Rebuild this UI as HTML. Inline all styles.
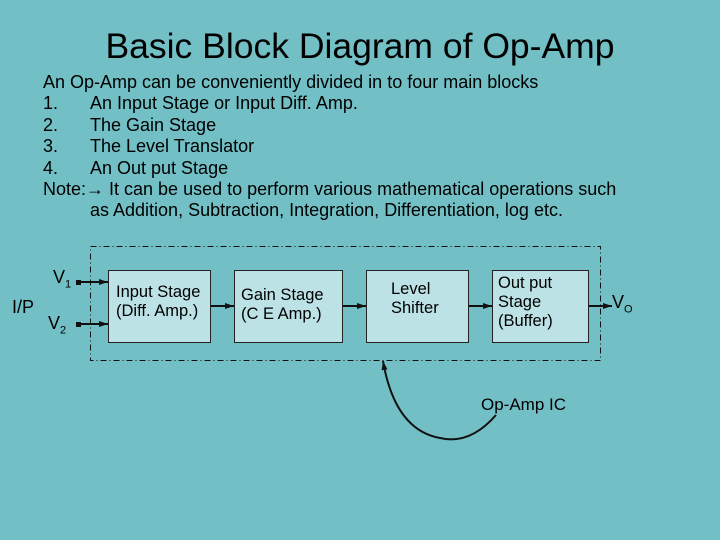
<!DOCTYPE html>
<html><head><style>
body{margin:0;width:720px;height:540px;background:#72bfc5;position:relative;overflow:hidden;font-family:"Liberation Sans",Arial,sans-serif;color:#000}
.t{position:absolute;white-space:nowrap}
.box{position:absolute;background:#bce2e5;border:1.5px solid #222;box-sizing:border-box;font-size:16.5px;line-height:19px;white-space:nowrap}
</style></head><body>
<div class="t" style="left:0;width:720px;text-align:center;top:26px;font-size:35.5px">Basic Block Diagram of Op-Amp</div>
<div style="position:absolute;left:43px;top:72px;font-size:18px;line-height:21.4px">
<div style="white-space:nowrap">An Op-Amp can be conveniently divided in to four main blocks</div>
<div>1.<span style="position:absolute;left:47px;white-space:nowrap">An Input Stage or Input Diff. Amp.</span></div>
<div>2.<span style="position:absolute;left:47px;white-space:nowrap">The Gain Stage</span></div>
<div>3.<span style="position:absolute;left:47px;white-space:nowrap">The Level Translator</span></div>
<div>4.<span style="position:absolute;left:47px;white-space:nowrap">An Out put Stage</span></div>
<div style="white-space:nowrap">Note:&#8594; It can be used to perform various mathematical operations such</div>
<div style="padding-left:47px;white-space:nowrap">as Addition, Subtraction, Integration, Differentiation, log etc.</div>
</div>
<svg width="720" height="540" style="position:absolute;left:0;top:0">
<defs><marker id="a" markerUnits="userSpaceOnUse" markerWidth="9" markerHeight="8" refX="9" refY="4" orient="auto"><path d="M0,1 L9,4 L0,7z" fill="#111"/></marker></defs>
<rect x="90.5" y="246.5" width="510" height="114" fill="none" stroke="#111" stroke-width="1" stroke-dasharray="6,3,1,3"/>
<g stroke="#111" stroke-width="2" fill="none">
<line x1="78" y1="282" x2="108" y2="282" marker-end="url(#a)"/>
<line x1="78" y1="324" x2="108" y2="324" marker-end="url(#a)"/>
<line x1="210" y1="306" x2="234" y2="306" marker-end="url(#a)"/>
<line x1="342" y1="306" x2="366" y2="306" marker-end="url(#a)"/>
<line x1="468" y1="306" x2="492" y2="306" marker-end="url(#a)"/>
<line x1="588" y1="306" x2="612" y2="306" marker-end="url(#a)"/>
<path d="M496,415 Q470,445 440,438 Q395,430 383,361" marker-end="url(#a)"/>
</g>
<rect x="76" y="280" width="5" height="5" fill="#111"/>
<rect x="76" y="322" width="5" height="5" fill="#111"/>
</svg>
<div class="box" style="left:108px;top:270px;width:103px;height:73px;padding:12px 0 0 7px">Input Stage<br>(Diff. Amp.)</div>
<div class="box" style="left:234px;top:270px;width:109px;height:73px;padding:15px 0 0 6px">Gain Stage<br>(C E Amp.)</div>
<div class="box" style="left:366px;top:270px;width:103px;height:73px;padding:9px 0 0 24px">Level<br>Shifter</div>
<div class="box" style="left:492px;top:270px;width:97px;height:73px;padding:3px 0 0 5px">Out put<br>Stage<br>(Buffer)</div>
<div class="t" style="left:12px;top:297px;font-size:18px">I/P</div>
<div class="t" style="left:53px;top:267px;font-size:18px">V<sub style="font-size:11px">1</sub></div>
<div class="t" style="left:48px;top:313px;font-size:18px">V<sub style="font-size:11px">2</sub></div>
<div class="t" style="left:612px;top:292px;font-size:18px">V<sub style="font-size:11px">O</sub></div>
<div class="t" style="left:481px;top:395px;font-size:17px">Op-Amp IC</div>
</body></html>
